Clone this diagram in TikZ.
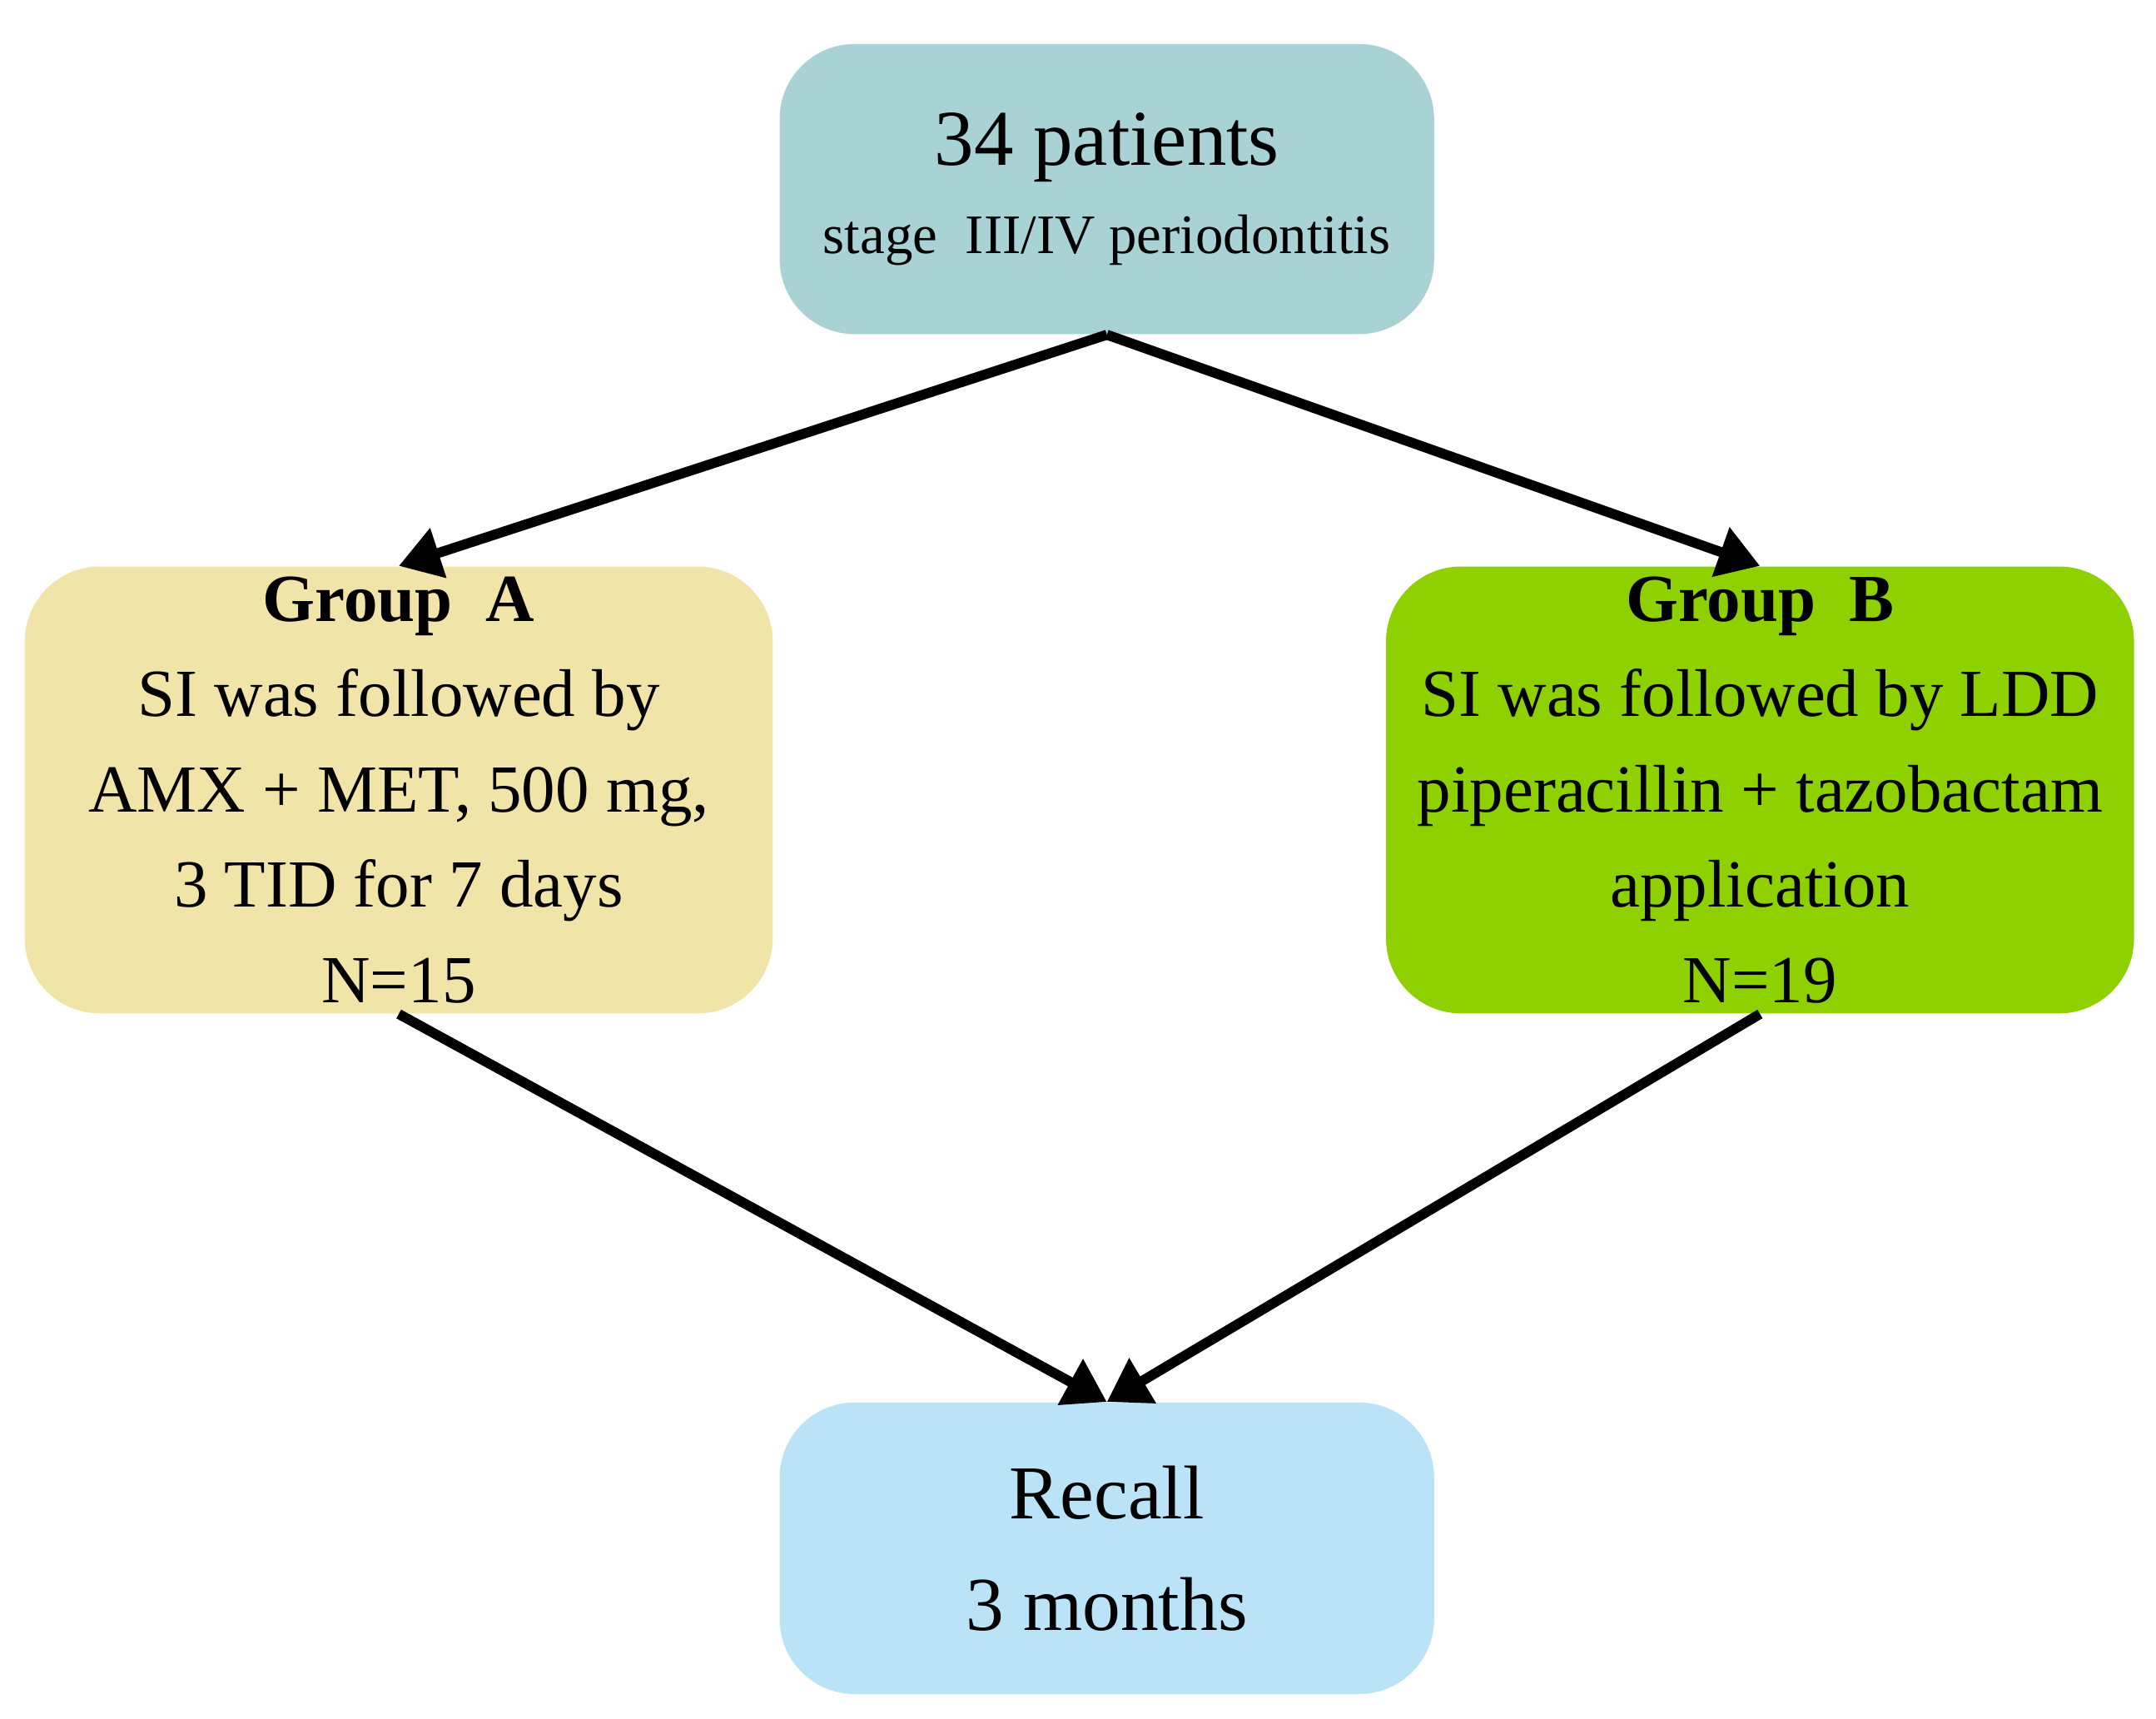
\documentclass[tikz,border=0pt]{standalone}
\usepackage{fontspec}
\setmainfont{Liberation Serif}
\usetikzlibrary{arrows.meta}
\definecolor{ctop}{HTML}{A9D2D4}
\definecolor{ca}{HTML}{F0E4A8}
\definecolor{cb}{HTML}{8FD000}
\definecolor{cr}{HTML}{BBE3F8}
\begin{document}
\begin{tikzpicture}[x=0.0165cm,y=-0.0165cm,
 box/.style={rounded corners=0.9cm,inner sep=0pt,align=center,draw=none},
 arr/.style={line width=3.4pt,-{Triangle[length=0.5cm,width=0.6cm]}}]
\useasboundingbox (0,0) rectangle (1568,1250);
\node[box,fill=ctop,minimum width=476*0.0165cm,minimum height=211*0.0165cm,font=\fontsize{19}{24}\selectfont] (top) at (805,137.5)
 {{\fontsize{27}{32}\selectfont 34 patients}\\[6pt] stage\ \ III/IV periodontitis};
\node[box,fill=ca,minimum width=544*0.0165cm,minimum height=325*0.0165cm,font=\fontsize{23}{32.5}\selectfont] (a) at (290,574.5)
 {\textbf{Group\ \ A}\\ SI was followed by\\ AMX + MET, 500 mg,\\ 3 TID for 7 days\\ N=15};
\node[box,fill=cb,minimum width=544*0.0165cm,minimum height=325*0.0165cm,font=\fontsize{23}{32.5}\selectfont] (b) at (1280,574.5)
 {\textbf{Group\ \ B}\\ SI was followed by LDD\\ piperacillin\ + tazobactam\\ application\\ N=19};
\node[box,fill=cr,minimum width=476*0.0165cm,minimum height=212*0.0165cm,font=\fontsize{26}{38}\selectfont] (r) at (805,1126)
 {Recall\\ 3 months};
\draw[arr] (top.south) -- (a.north);
\draw[arr] (top.south) -- (b.north);
\draw[arr] (a.south) -- (r.north);
\draw[arr] (b.south) -- (r.north);
\end{tikzpicture}
\end{document}
